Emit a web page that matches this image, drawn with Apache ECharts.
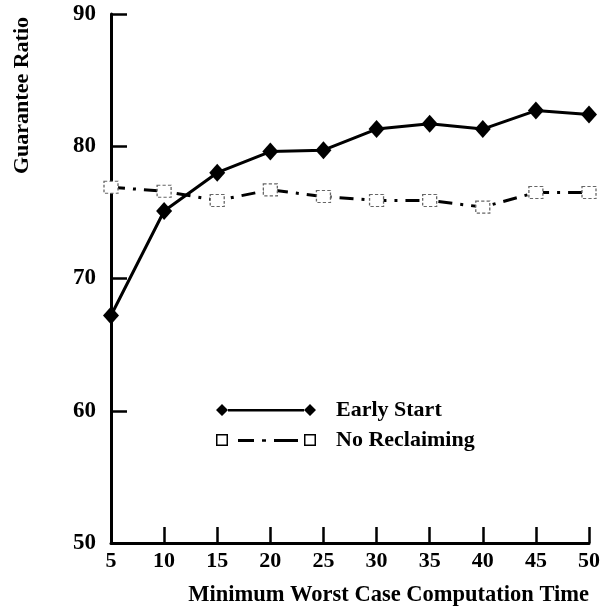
<!DOCTYPE html>
<html>
<head>
<meta charset="utf-8">
<script src="https://cdn.jsdelivr.net/npm/echarts@6/dist/echarts.min.js"></script>
<style>html,body{margin:0;padding:0;background:#fff;}#c{width:603px;height:609px;}</style>
</head>
<body>
<div id="c"></div>
<script>
var xValues = [5, 10, 15, 20, 25, 30, 35, 40, 45, 50];
var earlyStart = [67.2, 75.1, 78.0, 79.6, 79.7, 81.3, 81.7, 81.3, 82.7, 82.4];
var noReclaiming = [76.9, 76.6, 75.9, 76.7, 76.2, 75.9, 75.9, 75.4, 76.5, 76.5];
var seriesNames = ['Early Start', 'No Reclaiming'];
var xTitle = 'Minimum Worst Case Computation Time';
var yTitle = 'Guarantee Ratio';

function pairs(ys) { return xValues.map(function (x, i) { return [x, ys[i]]; }); }

var FONT = 'Liberation Serif';
var chart = echarts.init(document.getElementById('c'), null, { renderer: 'canvas' });
chart.setOption({
  backgroundColor: '#fff',
  animation: false,
  grid: { left: 111, right: 13, top: 14, bottom: 66, containLabel: false },
  xAxis: {
    type: 'value', min: 5, max: 50, interval: 5,
    name: xTitle, nameLocation: 'end', nameGap: 0,
    nameTextStyle: { fontFamily: FONT, fontSize: 22.5, fontWeight: 'bold', color: '#000', align: 'right', verticalAlign: 'top', padding: [41, 0, 0, 0] },
    axisLine: { show: true, lineStyle: { color: '#000', width: 3 } },
    axisTick: { show: true, inside: true, length: 16, lineStyle: { color: '#000', width: 2.5 } },
    axisLabel: { fontFamily: FONT, fontSize: 22, fontWeight: 'bold', color: '#000', margin: 7 },
    splitLine: { show: false }
  },
  yAxis: {
    type: 'value', min: 50, max: 90, interval: 10,
    name: yTitle, nameLocation: 'middle', nameRotate: 90, nameGap: 89,
    nameTextStyle: { fontFamily: FONT, fontSize: 22, fontWeight: 'bold', color: '#000', align: 'center', verticalAlign: 'middle', padding: [0, 0, 0, 366] },
    axisLine: { show: true, lineStyle: { color: '#000', width: 3 } },
    axisTick: { show: true, inside: true, length: 16, lineStyle: { color: '#000', width: 2.5 } },
    axisLabel: { fontFamily: FONT, fontSize: 23, fontWeight: 'bold', color: '#000', margin: 15 },
    splitLine: { show: false }
  },
  legend: {
    orient: 'vertical', left: 211, top: 394, itemWidth: 100, itemHeight: 12, itemGap: 8,
    textStyle: { fontFamily: FONT, fontSize: 22, fontWeight: 'bold', color: '#000', padding: [0, 0, 0, 15] },
    data: [
      { name: seriesNames[0], icon: 'path://M0 6L6 0L12 6L6 12ZM12 5H88V7.5H12ZM88 6L94 0L100 6L94 12Z', itemStyle: { color: '#000', borderWidth: 0 } },
      { name: seriesNames[1], icon: 'path://M0 0H12V12H0ZM1.5 1.5V10.5H10.5V1.5ZM22 5H38V8H22ZM46 5.2H50V7.8H46ZM58 5H82V8H58ZM88 0H100V12H88ZM89.5 1.5V10.5H98.5V1.5Z', itemStyle: { color: '#000', borderWidth: 0 } }
    ]
  },
  series: [
    {
      name: seriesNames[0], type: 'line', data: pairs(earlyStart),
      symbol: 'diamond', symbolSize: [16, 18], z: 3,
      lineStyle: { color: '#000', width: 3 },
      itemStyle: { color: '#000' }
    },
    {
      name: seriesNames[1], type: 'line', data: pairs(noReclaiming),
      symbol: 'rect', symbolSize: [14, 12], z: 2,
      lineStyle: { color: '#000', width: 3, type: [14, 8, 3, 8] },
      itemStyle: { color: '#fff', borderColor: '#666', borderWidth: 1.2, borderType: [3, 2] }
    }
  ]
});
</script>
</body>
</html>
